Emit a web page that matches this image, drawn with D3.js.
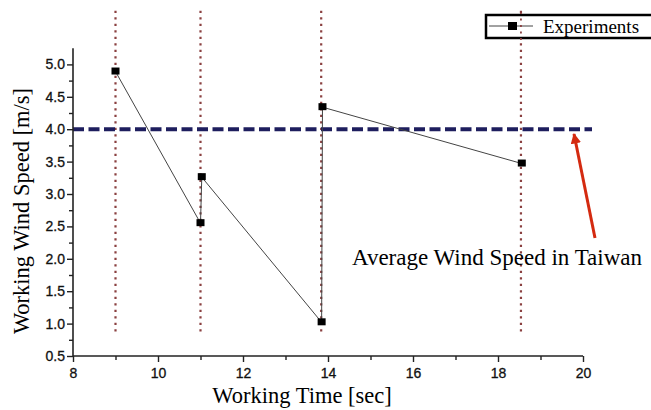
<!DOCTYPE html>
<html>
<head>
<meta charset="utf-8">
<script src="https://cdn.jsdelivr.net/npm/d3@7"></script>
<style>
  body { margin: 0; background: #fff; }
  svg { display: block; }
</style>
</head>
<body>
<svg width="651" height="410"></svg>
<script>
  var timeSec = [9.0, 11.0, 11.03, 13.85, 13.87, 18.56];
  var windSpeed = [4.89, 2.55, 3.26, 1.02, 4.34, 3.47];
  var markerTimes = [9.0, 11.0, 13.84, 18.54];
  var averageSpeed = 4.0;
  var xTicks = [8, 10, 12, 14, 16, 18, 20];
  var yTicks = [0.5, 1.0, 1.5, 2.0, 2.5, 3.0, 3.5, 4.0, 4.5, 5.0];

  var svg = d3.select('svg');

  var x = d3.scaleLinear().domain([8, 20]).range([73, 583]);
  var y = d3.scaleLinear().domain([0.5, 5.0]).range([356, 64.4]);

  var serif = '"Liberation Serif", "Times New Roman", serif';
  var sans = '"Liberation Sans", Arial, sans-serif';

  // vertical dotted markers
  svg.selectAll('.vline').data(markerTimes).enter().append('line')
    .attr('x1', function(d) { return x(d); })
    .attr('x2', function(d) { return x(d); })
    .attr('y1', y(0.88))
    .attr('y2', 8)
    .attr('stroke', '#8a4040')
    .attr('stroke-width', 2.2)
    .attr('stroke-dasharray', '2.2,4.3');

  // average wind speed line
  svg.append('line')
    .attr('x1', x(8))
    .attr('x2', 592)
    .attr('y1', y(averageSpeed))
    .attr('y2', y(averageSpeed))
    .attr('stroke', '#1e1e5e')
    .attr('stroke-width', 4)
    .attr('stroke-dasharray', '11,4.5');

  // axes
  var xAxis = d3.axisBottom(x).tickValues(d3.range(8, 21, 1)).tickSize(5)
    .tickFormat(function(d) { return xTicks.indexOf(d) >= 0 ? d : ''; });
  var gx = svg.append('g').attr('transform', 'translate(0,' + y(0.5) + ')').call(xAxis);
  gx.selectAll('.tick line').attr('y2', function(d) { return xTicks.indexOf(d) >= 0 ? 6 : 4; });

  var yAxis = d3.axisLeft(y).tickValues(d3.range(0.5, 5.01, 0.25)).tickSize(6)
    .tickFormat(function(d) { return yTicks.indexOf(+d.toFixed(2)) >= 0 ? d3.format('.1f')(d) : ''; });
  var gy = svg.append('g').attr('transform', 'translate(' + x(8) + ',0)').call(yAxis);
  gy.selectAll('.tick line').attr('x2', function(d) { return yTicks.indexOf(+d.toFixed(2)) >= 0 ? -6 : -4; });
  gy.select('.domain').attr('d', 'M0,' + y(0.5) + 'V' + y(5.25));

  svg.selectAll('.domain').attr('stroke', '#222').attr('stroke-width', 1.6);
  svg.selectAll('.tick line').attr('stroke', '#222').attr('stroke-width', 1.4);
  svg.selectAll('.tick text').attr('font-family', sans).attr('font-size', 14)
    .attr('fill', '#111').attr('stroke', '#111').attr('stroke-width', 0.3);
  gx.selectAll('.tick text').attr('y', 12);
  gy.selectAll('.tick text').attr('x', -8);
  gx.select('.domain').attr('d', 'M' + x(8) + ',0H' + x(20));

  // data line
  var pts = timeSec.map(function(t, i) { return [t, windSpeed[i]]; });
  svg.append('path')
    .datum(pts)
    .attr('fill', 'none')
    .attr('stroke', '#444')
    .attr('stroke-width', 1)
    .attr('d', d3.line().x(function(d) { return x(d[0]); }).y(function(d) { return y(d[1]); }));

  svg.selectAll('.pt').data(pts).enter().append('rect')
    .attr('x', function(d) { return x(d[0]) - 4; })
    .attr('y', function(d) { return y(d[1]) - 4; })
    .attr('width', 8)
    .attr('height', 7)
    .attr('fill', '#000');

  // axis titles
  svg.append('text')
    .attr('x', 302)
    .attr('y', 403)
    .attr('text-anchor', 'middle')
    .attr('font-family', serif)
    .attr('font-size', 22.5)
    .text('Working Time [sec]');

  svg.append('text')
    .attr('transform', 'translate(29,211) rotate(-90)')
    .attr('text-anchor', 'middle')
    .attr('font-family', serif)
    .attr('font-size', 22.5)
    .text('Working Wind Speed [m/s]');

  // annotation
  svg.append('text')
    .attr('x', 352)
    .attr('y', 265)
    .attr('font-family', serif)
    .attr('font-size', 23)
    .text('Average Wind Speed in Taiwan');

  svg.append('defs').append('marker')
    .attr('id', 'ah')
    .attr('viewBox', '0 0 10 10')
    .attr('refX', 9).attr('refY', 5)
    .attr('markerWidth', 3.5).attr('markerHeight', 3.5)
    .attr('orient', 'auto')
    .append('path').attr('d', 'M0,0L10,5L0,10Z').attr('fill', '#d42a10');

  svg.append('line')
    .attr('x1', 595).attr('y1', 238)
    .attr('x2', 574).attr('y2', 134)
    .attr('stroke', '#d42a10')
    .attr('stroke-width', 3)
    .attr('marker-end', 'url(#ah)');

  // legend
  var lg = svg.append('g');
  lg.append('rect')
    .attr('x', 486).attr('y', 15)
    .attr('width', 172).attr('height', 23)
    .attr('fill', '#fff')
    .attr('stroke', '#000')
    .attr('stroke-width', 2.5);
  lg.append('line')
    .attr('x1', 489).attr('x2', 533)
    .attr('y1', 26).attr('y2', 26)
    .attr('stroke', '#444').attr('stroke-width', 1);
  lg.append('rect')
    .attr('x', 508).attr('y', 22)
    .attr('width', 9).attr('height', 8)
    .attr('fill', '#000');
  lg.append('text')
    .attr('x', 543).attr('y', 33)
    .attr('font-family', serif)
    .attr('font-size', 19)
    .text('Experiments');

  // dotted marker overlaps the legend box
  svg.append('line')
    .attr('x1', x(markerTimes[3])).attr('x2', x(markerTimes[3]))
    .attr('y1', 40).attr('y2', 10)
    .attr('stroke', '#8a4040')
    .attr('stroke-width', 1.8)
    .attr('stroke-dasharray', '2,4.5');
</script>
</body>
</html>
